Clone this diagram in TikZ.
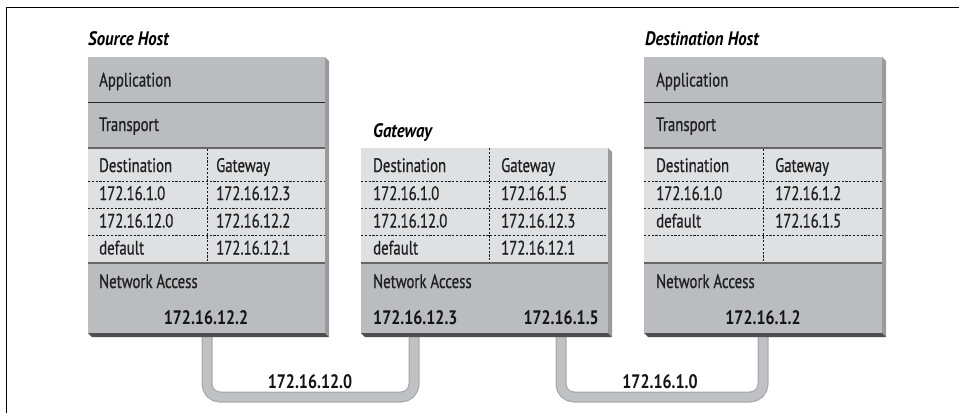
\documentclass[tikz,border=0pt]{standalone}
\usepackage{fontspec}
\setmainfont{PT Sans}[
  UprightFeatures={FakeStretch=0.76,FakeBold=0.6},
  BoldFeatures={FakeStretch=0.82},
  BoldItalicFeatures={FakeStretch=0.86}]
\begin{document}
\begin{tikzpicture}[x=1pt,y=-1pt,
  sep/.style={draw=black!85,line width=1pt},
  septhick/.style={draw=black!60,line width=2pt},
  dsh/.style={draw=black!90,line width=0.85pt,dash pattern=on 2.2pt off 1.6pt},
  txt/.style={anchor=base west,inner sep=0pt,font=\fontsize{19.5}{22}\selectfont,text=black!88},
  btxt/.style={anchor=base,inner sep=0pt,font=\fontsize{19.5}{22}\selectfont\bfseries,text=black!92},
  ttl/.style={anchor=base west,inner sep=0pt,font=\fontsize{19.5}{22}\selectfont\bfseries\itshape,text=black},
  pipe/.style={draw=pipeedge,line width=11pt,rounded corners=13pt},
  pipein/.style={draw=pipefill,line width=8.5pt,rounded corners=13pt}
]
\definecolor{bandgray}{HTML}{BBBCBF}
\definecolor{tablegray}{HTML}{DFE0E2}
\definecolor{pipeedge}{HTML}{A9AAAD}
\definecolor{pipefill}{HTML}{C0C1C4}
\definecolor{rightshade}{HTML}{9A9B9E}
\definecolor{bottomshade}{HTML}{4E4E50}
\useasboundingbox (0,0) rectangle (959,413);
\fill[white] (0,0) rectangle (959,413);
% frame
\draw[black,line width=1pt] (6,413) -- (6,7) -- (959,7);

% pipe end points
\coordinate (sA) at (207,330);
\coordinate (gA) at (414,330);
\coordinate (gB) at (561,330);
\coordinate (dA) at (763,330);
\coordinate (m1) at (310,397);
\coordinate (m2) at (660,397);
\draw[pipe] (sA) |- (m1) -| (gA);
\draw[pipein] (sA) |- (m1) -| (gA);
\draw[pipe] (gB) |- (m2) -| (dA);
\draw[pipein] (gB) |- (m2) -| (dA);

% ---------- Source host ----------
\def\L{88}\def\R{325}\def\C{207}
\fill[rightshade] (\R,57) -- (\R+4,61) -- (\R+4,337) -- (\R,333) -- cycle;
\fill[bottomshade] (\L,333) -- (\R,333) -- (\R+4,337) -- (\L+4,337) -- cycle;
\fill[bandgray] (\L,57) rectangle (\R,148);
\fill[tablegray] (\L,148) rectangle (\R,263);
\fill[bandgray] (\L,263) rectangle (\R,333);
\draw[sep] (\L,102) -- (\R,102);
\draw[septhick] (\L,148) -- (\R,148);
\draw[septhick] (\L,263) -- (\R,263);
\draw[dsh] (\L,181) -- (\R,181);
\draw[dsh] (\L,208) -- (\R,208);
\draw[dsh] (\L,235) -- (\R,235);
\draw[dsh] (\C,149) -- (\C,262);
\node[ttl] (stitle) at (88,45) {Source Host};
\node[txt] (sapp) at (99,86.5) {Application};
\node[txt] (strans) at (99,131) {Transport};
\node[txt] (sh1) at (99,172) {Destination};
\node[txt] (sh2) at (216,172) {Gateway};
\node[txt] (sr1a) at (99,200) {172.16.1.0};
\node[txt] (sr1b) at (216,200) {172.16.12.3};
\node[txt] (sr2a) at (99,227.5) {172.16.12.0};
\node[txt] (sr2b) at (216,227.5) {172.16.12.2};
\node[txt] (sr3a) at (99,254.5) {default};
\node[txt] (sr3b) at (216,254.5) {172.16.12.1};
\node[txt] (sna) at (99,288) {Network Access};
\node[btxt] (sip) at (206,324.5) {172.16.12.2};

% ---------- Gateway ----------
\def\L{361}\def\R{608}\def\C{489}
\fill[rightshade] (\R,148) -- (\R+4,152) -- (\R+4,337) -- (\R,333) -- cycle;
\fill[bottomshade] (\L,333) -- (\R,333) -- (\R+4,337) -- (\L+4,337) -- cycle;
\fill[tablegray] (\L,148) rectangle (\R,263);
\fill[bandgray] (\L,263) rectangle (\R,333);
\draw[septhick] (\L,263) -- (\R,263);
\draw[dsh] (\L,181) -- (\R,181);
\draw[dsh] (\L,208) -- (\R,208);
\draw[dsh] (\L,235) -- (\R,235);
\draw[dsh] (\C,148) -- (\C,262);
\node[ttl] (gtitle) at (373,137) {Gateway};
\node[txt] (gh1) at (373,172) {Destination};
\node[txt] (gh2) at (501,172) {Gateway};
\node[txt] (gr1a) at (373,200) {172.16.1.0};
\node[txt] (gr1b) at (501,200) {172.16.1.5};
\node[txt] (gr2a) at (373,227.5) {172.16.12.0};
\node[txt] (gr2b) at (501,227.5) {172.16.12.3};
\node[txt] (gr3a) at (373,254.5) {default};
\node[txt] (gr3b) at (501,254.5) {172.16.12.1};
\node[txt] (gna) at (373,288) {Network Access};
\node[btxt,anchor=base west] (gip1) at (373,324.5) {172.16.12.3};
\node[btxt,anchor=base east] (gip2) at (599,324.5) {172.16.1.5};

% ---------- Destination host ----------
\def\L{644}\def\R{882}\def\C{763}
\fill[rightshade] (\R,57) -- (\R+4,61) -- (\R+4,337) -- (\R,333) -- cycle;
\fill[bottomshade] (\L,333) -- (\R,333) -- (\R+4,337) -- (\L+4,337) -- cycle;
\fill[bandgray] (\L,57) rectangle (\R,148);
\fill[tablegray] (\L,148) rectangle (\R,263);
\fill[bandgray] (\L,263) rectangle (\R,333);
\draw[sep] (\L,102) -- (\R,102);
\draw[septhick] (\L,148) -- (\R,148);
\draw[septhick] (\L,263) -- (\R,263);
\draw[dsh] (\L,181) -- (\R,181);
\draw[dsh] (\L,208) -- (\R,208);
\draw[dsh] (\L,235) -- (\R,235);
\draw[dsh] (\C,149) -- (\C,262);
\node[ttl] (dtitle) at (645,45) {Destination Host};
\node[txt] (dapp) at (656,86.5) {Application};
\node[txt] (dtrans) at (656,131) {Transport};
\node[txt] (dh1) at (656,172) {Destination};
\node[txt] (dh2) at (775,172) {Gateway};
\node[txt] (dr1a) at (656,200) {172.16.1.0};
\node[txt] (dr1b) at (775,200) {172.16.1.2};
\node[txt] (dr2a) at (656,227.5) {default};
\node[txt] (dr2b) at (775,227.5) {172.16.1.5};
\node[txt] (dna) at (656,288) {Network Access};
\node[btxt] (dip) at (763,324.5) {172.16.1.2};

% link labels
\node[btxt] (l1) at (310,388) {172.16.12.0};
\node[btxt] (l2) at (660,388) {172.16.1.0};
\end{tikzpicture}
\end{document}
